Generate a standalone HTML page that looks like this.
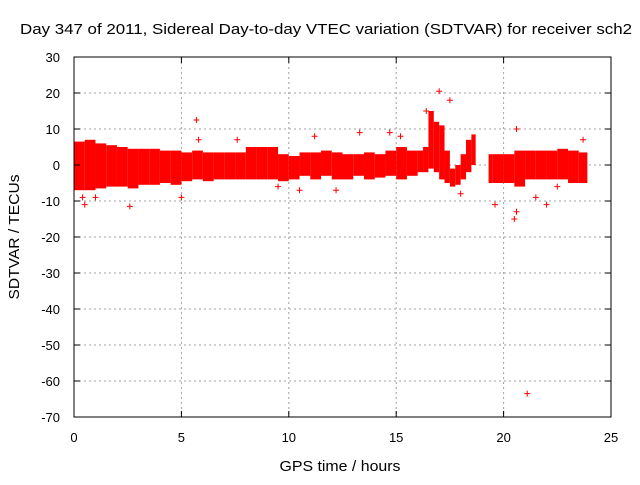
<!DOCTYPE html>
<html><head><meta charset="utf-8"><style>
body{margin:0;background:#fff;}
svg text{font-family:"Liberation Sans",sans-serif;font-size:13px;fill:#000;}
svg text.big{font-size:15px;}
</style></head><body>
<svg id="chart" width="640" height="480" xmlns="http://www.w3.org/2000/svg">
<text class="big" x="326" y="34" text-anchor="middle" textLength="612" lengthAdjust="spacingAndGlyphs">Day 347 of 2011, Sidereal Day-to-day VTEC variation (SDTVAR) for receiver sch2</text>
<text class="big" x="340" y="471" text-anchor="middle" textLength="121" lengthAdjust="spacingAndGlyphs">GPS time / hours</text>
<text class="big" transform="translate(19,237) rotate(-90)" text-anchor="middle" textLength="125" lengthAdjust="spacingAndGlyphs">SDTVAR / TECUs</text>
<g id="grid"></g><g id="data"></g><g id="axes"></g>
</svg>
<script>
const binStart=[0,0.5,1,1.5,2,2.5,3,3.5,4,4.5,5,5.5,6,6.5,7,7.5,8,8.5,9,9.5,10,10.5,11,11.5,12,12.5,13,13.5,14,14.5,15,15.5,16,16.25,16.5,16.75,17,17.25,17.5,17.75,18,18.25,18.5,19.3,19.5,20,20.5,21,21.5,22,22.5,23,23.5];
const binEnd=[0.5,1,1.5,2,2.5,3,3.5,4,4.5,5,5.5,6,6.5,7,7.5,8,8.5,9,9.5,10,10.5,11,11.5,12,12.5,13,13.5,14,14.5,15,15.5,16,16.25,16.5,16.75,17,17.25,17.5,17.75,18,18.25,18.5,18.7,19.5,20,20.5,21,21.5,22,22.5,23,23.5,23.9];
const binLow=[-7,-7,-6.5,-6,-6,-6.5,-5.5,-5.5,-5,-5.5,-4.5,-4,-4.5,-4,-4,-4,-4,-4,-4,-4.5,-4,-3,-4,-3,-4,-4,-3,-4,-3.5,-3,-4,-3,-2,-2,-1,-2,-4,-5,-6,-5.5,-4,-2,0,-5,-5,-5,-6,-4,-4,-4,-4,-5,-5];
const binHigh=[6.5,7,6,5.5,5,4.5,4.5,4.5,4,4,3.5,4,3.5,3.5,3.5,3.5,5,5,5,3,2.5,3.5,3.5,4,3.5,3,3,3.5,3,4,5,4,4,5,15,12,11,4,-1,0,3,7,8.5,3,3,3,4,4,4,4,4.5,4,3.5];
const outX=[5.7,17.0,21.1,22.0,2.6,0.5,0.4,5.0,20.5,20.6,20.6,19.6,18.0,13.3,11.2,14.7,7.6,5.8,10.5,9.5,16.4,21.5,23.7,22.5,1.0,17.5,12.2,15.2];
const outY=[12.5,20.5,-63.5,-11,-11.5,-11,-9,-9,-15,-13,10,-11,-8,9,8,9,7,7,-7,-6,15,-9,7,-6,-9,18,-7,8];
const xTicks=[0,5,10,15,20,25];
const yTicks=[30,20,10,0,-10,-20,-30,-40,-50,-60,-70];
const L=74,R=611,T=57,B=417;
const xs=v=>L+(v-0)/25*(R-L);
const ys=v=>T+(30-v)/100*(B-T);
const NS="http://www.w3.org/2000/svg";
function mk(tag,parent,attrs){const e=document.createElementNS(NS,tag);for(const k in attrs)e.setAttribute(k,attrs[k]);document.getElementById(parent).appendChild(e);return e;}
xTicks.forEach(t=>{
 const x=xs(t);
 if(t>0&&t<25){const g=mk('line','grid',{x1:x,x2:x,y1:T,y2:B,stroke:'#a0a0a0','stroke-dasharray':'2,3'});
 
 }
 mk('line','axes',{x1:x,x2:x,y1:B,y2:B-6,stroke:'#000'});
 mk('line','axes',{x1:x,x2:x,y1:T,y2:T+6,stroke:'#000'});
 const tx=mk('text','axes',{x:x,y:442,'text-anchor':'middle'});tx.textContent=t;
 
 
});
yTicks.forEach(t=>{
 const y=ys(t);
 if(t<30&&t>-70){const g=mk('line','grid',{x1:L,x2:R,y1:y,y2:y,stroke:'#a0a0a0','stroke-dasharray':'2,3'});
 
 }
 mk('line','axes',{x1:L,x2:L+6,y1:y,y2:y,stroke:'#000'});
 mk('line','axes',{x1:R,x2:R-6,y1:y,y2:y,stroke:'#000'});
 const tx=mk('text','axes',{x:60,y:y+5,'text-anchor':'end'});tx.textContent=t;
 
 
});
const fr=mk('rect','axes',{x:L,y:T,width:R-L,height:B-T,fill:'none',stroke:'#000'});


binStart.forEach((s,i)=>{
 const r=mk('rect','data',{x:xs(s),y:ys(binHigh[i]),width:xs(binEnd[i])-xs(s),height:ys(binLow[i])-ys(binHigh[i]),fill:'#ff0000'});
 
 
});
outX.forEach((h,i)=>{
 const x=xs(h),y=ys(outY[i]);
 const p=mk('path','data',{d:`M${x-3},${y}H${x+3}M${x},${y-3}V${y+3}`,stroke:'#ff0000','stroke-width':1});
 
 
});
</script>
</body></html>
